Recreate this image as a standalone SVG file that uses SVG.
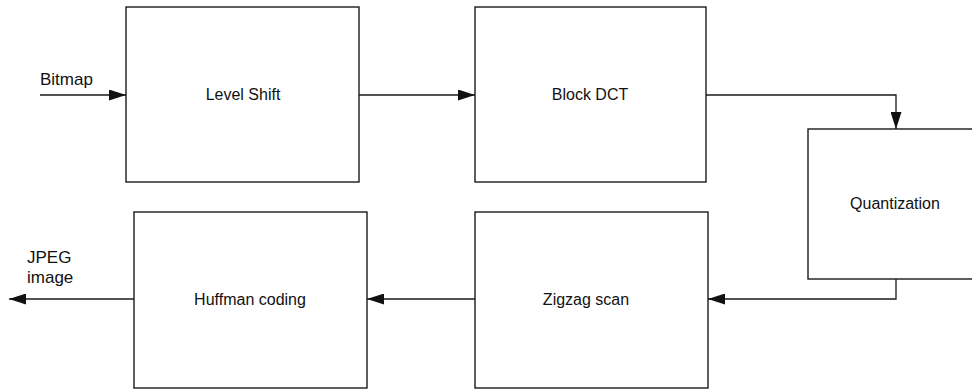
<svg xmlns="http://www.w3.org/2000/svg" width="972" height="391" viewBox="0 0 972 391">
  <style>
    .box { fill: #ffffff; stroke: #1a1a1a; stroke-width: 1.4; }
    .lbl { font-family: "Liberation Sans", Arial, sans-serif; font-size: 16px; fill: #111111; text-anchor: middle; }
    .io { font-family: "Liberation Sans", Arial, sans-serif; font-size: 17px; fill: #111111; }
    .wire { fill: none; stroke: #1a1a1a; stroke-width: 1.3; }
  </style>
  <defs>
    <marker id="arrow" viewBox="0 0 17 11" refX="17" refY="5.5" markerWidth="17" markerHeight="11" markerUnits="userSpaceOnUse" orient="auto">
      <path d="M0,0 L17,5.5 L0,11 Z" fill="#111111"/>
    </marker>
  </defs>
  <rect width="972" height="391" fill="#ffffff"/>

  <g id="level-shift">
    <rect class="box" x="126" y="7" width="233" height="175"/>
    <text class="lbl" x="243" y="100">Level Shift</text>
  </g>
  <g id="block-dct">
    <rect class="box" x="475" y="7" width="231" height="175"/>
    <text class="lbl" x="590" y="100">Block DCT</text>
  </g>
  <g id="quantization">
    <rect class="box" x="808" y="129" width="180" height="150"/>
    <text class="lbl" x="895" y="209">Quantization</text>
  </g>
  <g id="zigzag-scan">
    <rect class="box" x="475" y="212" width="233" height="176"/>
    <text class="lbl" x="586" y="305">Zigzag scan</text>
  </g>
  <g id="huffman-coding">
    <rect class="box" x="134" y="212" width="233" height="176"/>
    <text class="lbl" x="250" y="305">Huffman coding</text>
  </g>

  <g id="connectors">
    <line class="wire" x1="40" y1="95" x2="126" y2="95" marker-end="url(#arrow)"/>
    <line class="wire" x1="359" y1="95" x2="475" y2="95" marker-end="url(#arrow)"/>
    <polyline class="wire" points="706,95 896,95 896,129" marker-end="url(#arrow)"/>
    <polyline class="wire" points="896,279 896,299 708,299" marker-end="url(#arrow)"/>
    <line class="wire" x1="475" y1="299" x2="367" y2="299" marker-end="url(#arrow)"/>
    <line class="wire" x1="134" y1="299" x2="9" y2="299" marker-end="url(#arrow)"/>
  </g>

  <g id="io-labels">
    <text class="io" x="40" y="85">Bitmap</text>
    <text class="io" x="27" y="263">JPEG</text>
    <text class="io" x="27" y="283">image</text>
  </g>
</svg>
